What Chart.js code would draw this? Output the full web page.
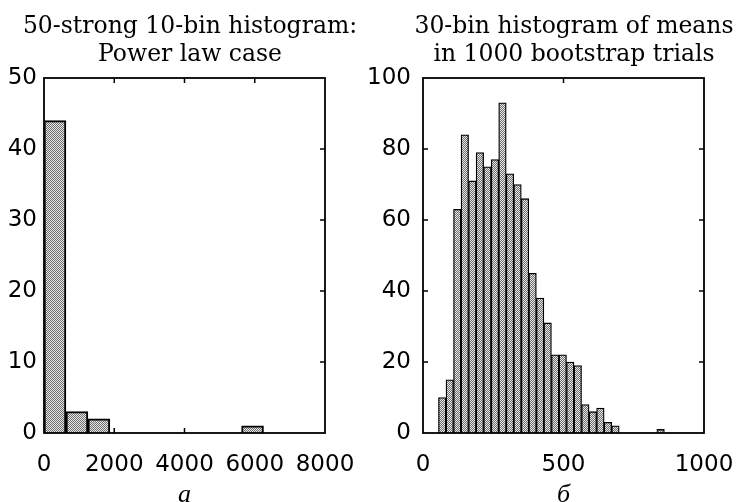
<!DOCTYPE html>
<html>
<head>
<meta charset="utf-8">
<script src="https://cdn.jsdelivr.net/npm/chart.js@4.4.1/dist/chart.umd.min.js"></script>
<style>
  html, body { margin: 0; padding: 0; background: #fff; overflow: hidden; }
  #wrap { position: relative; width: 739px; height: 502px; overflow: hidden; }
  canvas { position: absolute; top: 0; }
</style>
</head>
<body>
<div id="wrap">
  <canvas id="left" width="380" height="502" style="left:0"></canvas>
  <canvas id="right" width="438" height="502" style="left:355px"></canvas>
</div>
<script>
// panel a: 10-bin histogram of the 50 samples (bin centres)
const leftBins = [312, 937, 1562, 2187, 2812, 3437, 4062, 4687, 5312, 5937];
const leftCounts = [44, 3, 2, 0, 0, 0, 0, 0, 0, 1];
const leftXTicks = [0, 2000, 4000, 6000, 8000];
const leftYTicks = [0, 10, 20, 30, 40, 50];
const leftTitle = ['50-strong 10-bin histogram:', 'Power law case'];

// panel б: 30-bin histogram of bootstrap means (bin centres)
const rightBins = [68.4, 95.2, 122, 148.8, 175.6, 202.4, 229.2, 256, 282.8, 309.6,
  336.4, 363.2, 390, 416.8, 443.6, 470.4, 497.2, 524, 550.8, 577.6,
  604.4, 631.2, 658, 684.8, 711.6, 738.4, 765.2, 792, 818.8, 845.6];
const rightCounts = [10, 15, 63, 84, 71, 79, 75, 77, 93, 73,
  70, 66, 45, 38, 31, 22, 22, 20, 19, 8,
  6, 7, 3, 2, 0, 0, 0, 0, 0, 1];
const rightXTicks = [0, 500, 1000];
const rightYTicks = [0, 20, 40, 60, 80, 100];
const rightTitle = ['30-bin histogram of means', 'in 1000 bootstrap trials'];

// dotted grey fill like the printed original
function stipple() {
  const tile = document.createElement('canvas');
  tile.width = 2; tile.height = 2;
  const g = tile.getContext('2d');
  g.fillStyle = '#e8e8e8'; g.fillRect(0, 0, 2, 2);
  g.fillStyle = '#6e6e6e'; g.fillRect(0, 0, 1, 1); g.fillRect(1, 1, 1, 1);
  return g.createPattern(tile, 'repeat');
}

// box frame with inward tick marks on all four sides
const boxTicks = {
  id: 'boxTicks',
  beforeDatasetsDraw(chart) {
    const { ctx, chartArea: a, scales: { x, y } } = chart;
    ctx.save();
    ctx.strokeStyle = '#000';
    ctx.lineWidth = 1.5;
    ctx.beginPath();
    x.ticks.forEach(t => {
      const px = x.getPixelForValue(t.value);
      if (px < a.left + 2 || px > a.right - 2) return;
      ctx.moveTo(px, a.bottom); ctx.lineTo(px, a.bottom - 5);
      ctx.moveTo(px, a.top); ctx.lineTo(px, a.top + 5);
    });
    y.ticks.forEach(t => {
      const py = y.getPixelForValue(t.value);
      if (py < a.top + 2 || py > a.bottom - 2) return;
      ctx.moveTo(a.left, py); ctx.lineTo(a.left + 5, py);
      ctx.moveTo(a.right, py); ctx.lineTo(a.right - 5, py);
    });
    ctx.stroke();
    ctx.restore();
  },
  afterDatasetsDraw(chart) {
    const { ctx, chartArea: a } = chart;
    ctx.save();
    ctx.strokeStyle = '#000';
    ctx.lineWidth = 1.8;
    ctx.strokeRect(a.left, a.top, a.right - a.left, a.bottom - a.top);
    ctx.restore();
  }
};

const tickFont = { family: 'DejaVu Sans', size: 23 };

function histogram(id, o) {
  return new Chart(document.getElementById(id), {
    type: 'bar',
    data: {
      datasets: [{
        data: o.bins.map((b, i) => ({ x: b, y: o.counts[i] })),
        backgroundColor: stipple(),
        borderColor: '#000',
        borderWidth: o.border,
        barPercentage: 1,
        categoryPercentage: 1
      }]
    },
    options: {
      responsive: false,
      animation: false,
      events: [],
      plugins: {
        legend: { display: false },
        tooltip: { enabled: false },
        title: {
          display: true,
          text: o.title,
          color: '#000',
          font: { family: 'DejaVu Serif', size: 23.5, weight: 'normal', lineHeight: 28 / 23.5 },
          padding: { top: 13, bottom: 9 }
        }
      },
      scales: {
        x: {
          type: 'linear',
          min: o.xTicks[0],
          max: o.xTicks[o.xTicks.length - 1],
          offset: false,
          grid: { display: false, drawTicks: false },
          border: { display: false },
          afterBuildTicks: s => { s.ticks = o.xTicks.map(v => ({ value: v })); },
          afterFit: s => { s.height = 69; },
          ticks: { padding: 18, color: '#000', font: tickFont, autoSkip: false, maxRotation: 0, callback: v => String(v) },
          title: {
            display: true,
            text: o.label,
            color: '#000',
            font: { family: 'Liberation Serif', style: 'italic', size: 26, lineHeight: 0.55 },
            padding: 0
          }
        },
        y: {
          min: o.yTicks[0],
          max: o.yTicks[o.yTicks.length - 1],
          grid: { display: false, drawTicks: false },
          border: { display: false },
          afterBuildTicks: s => { s.ticks = o.yTicks.map(v => ({ value: v })); },
          afterFit: s => { s.width = o.yWidth; },
          ticks: { padding: o.yPad, color: '#000', font: tickFont, callback: v => String(v) }
        },
        // empty spacer on the right so the title sits where the original has it
        spacer: {
          type: 'linear',
          position: 'right',
          grid: { display: false, drawTicks: false },
          border: { display: false },
          ticks: { display: false },
          afterFit: s => { s.width = o.spacer; }
        }
      }
    },
    plugins: [boxTicks]
  });
}

histogram('left', {
  bins: leftBins, counts: leftCounts, xTicks: leftXTicks, yTicks: leftYTicks,
  title: leftTitle, label: 'а', border: 2, yWidth: 44, yPad: 7, spacer: 55
});

histogram('right', {
  bins: rightBins, counts: rightCounts, xTicks: rightXTicks, yTicks: rightYTicks,
  title: rightTitle, label: 'б', border: 1.3, yWidth: 68, yPad: 12, spacer: 89
});
</script>
</body>
</html>
